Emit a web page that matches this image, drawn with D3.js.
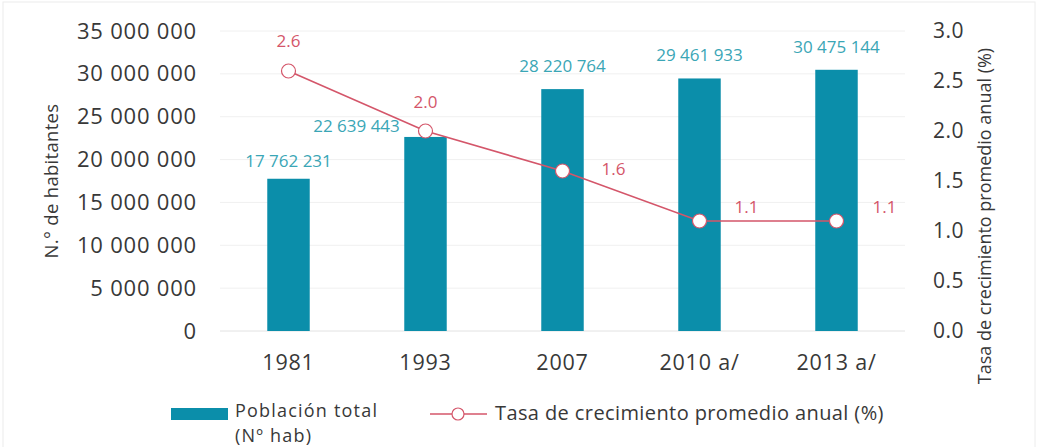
<!DOCTYPE html>
<html><head><meta charset="utf-8">
<script src="https://cdn.jsdelivr.net/npm/d3@7"></script>
<style>body{margin:0;background:#fff}svg{display:block;font-family:"Open Sans",sans-serif}</style>
</head><body><svg id="c" width="1045" height="447"></svg>
<script>
const categories = ["1981","1993","2007","2010 a/","2013 a/"];
const population = [17762231,22639443,28220764,29461933,30475144];
const growth = [2.6,2.0,1.6,1.1,1.1];
const leftTicks = [0,5000000,10000000,15000000,20000000,25000000,30000000,35000000];
const rightTicks = [0,0.5,1.0,1.5,2.0,2.5,3.0];

const svg = d3.select("#c");
const L=220,R=905,T=31,B=331;
const x = d3.scaleBand().domain(categories).range([L,R]).paddingInner(0.69).paddingOuter(0.345);
const yL = d3.scaleLinear().domain([0,35000000]).range([B,T]);
const yR = d3.scaleLinear().domain([0,3]).range([B,T]);
const fmt = d => d3.format(",")(d).replace(/,/g," ");
const barC="#0b8eaa", lblC="#3aa6b6", redC="#d4566a", txt="#383838";

svg.append("rect").attr("x",3).attr("y",2).attr("width",1032).attr("height",450).attr("fill","none").attr("stroke","#ececec");

// grid
svg.append("g").selectAll("line").data(leftTicks).join("line")
  .attr("x1",L).attr("x2",R).attr("y1",d=>yL(d)).attr("y2",d=>yL(d))
  .attr("stroke",d=>d===0?"#e2e2e2":"#f0f0f0");

// left axis
const ga = svg.append("g").attr("transform",`translate(${L-20},0)`)
  .call(d3.axisLeft(yL).tickValues(leftTicks).tickFormat(fmt).tickSize(0));
ga.select(".domain").remove();
ga.selectAll("text").attr("font-size",22).attr("letter-spacing",0.8).attr("fill",txt).attr("font-family","Open Sans");

// right axis
const gr = svg.append("g").attr("transform",`translate(${R+25},0)`)
  .call(d3.axisRight(yR).tickValues(rightTicks).tickFormat(d3.format(".1f")).tickSize(0));
gr.select(".domain").remove();
gr.selectAll("text").attr("font-size",21).attr("letter-spacing",0.5).attr("fill",txt).attr("font-family","Open Sans");

// x axis
const gx = svg.append("g").attr("transform",`translate(0,${B+21})`)
  .call(d3.axisBottom(x).tickSize(0));
gx.select(".domain").remove();
gx.selectAll("text").attr("font-size",21.5).attr("letter-spacing",0.8).attr("fill",txt).attr("font-family","Open Sans");

// bars
svg.append("g").selectAll("rect").data(population).join("rect")
  .attr("x",(d,i)=>x(categories[i])).attr("width",x.bandwidth())
  .attr("y",d=>yL(d)).attr("height",d=>B-yL(d)).attr("fill",barC);

// bar labels
const barDx=[0,-69,0,0,0], barDy=[12,5,17,17,17];
svg.append("g").selectAll("text").data(population).join("text")
  .attr("x",(d,i)=>x(categories[i])+x.bandwidth()/2+barDx[i])
  .attr("y",(d,i)=>yL(d)-barDy[i])
  .attr("text-anchor","middle").attr("font-size",17).attr("fill",lblC).text(fmt);

// line
const cx = (i)=>x(categories[i])+x.bandwidth()/2;
svg.append("path").datum(growth)
  .attr("d",d3.line().x((d,i)=>cx(i)).y(d=>yR(d)))
  .attr("fill","none").attr("stroke",redC).attr("stroke-width",1.6);
svg.append("g").selectAll("circle").data(growth).join("circle")
  .attr("cx",(d,i)=>cx(i)).attr("cy",d=>yR(d)).attr("r",7)
  .attr("fill","#fff").attr("stroke",redC).attr("stroke-width",1.2);

// line labels
const lDx=[0,0,51,47,48], lDy=[-24,-23,4,-8,-8];
svg.append("g").selectAll("text").data(growth).join("text")
  .attr("x",(d,i)=>cx(i)+lDx[i]).attr("y",(d,i)=>yR(d)+lDy[i])
  .attr("text-anchor","middle").attr("font-size",17).attr("fill",redC)
  .text(d3.format(".1f"));

// axis titles
svg.append("text").attr("transform","translate(58,181) rotate(-90)")
  .attr("text-anchor","middle").attr("font-size",18.5).attr("letter-spacing",0.3).attr("fill",txt).text("N.° de habitantes");
svg.append("text").attr("transform","translate(991,216) rotate(-90)")
  .attr("text-anchor","middle").attr("font-size",18).attr("fill",txt).text("Tasa de crecimiento promedio anual (%)");

// legend
svg.append("rect").attr("x",171).attr("y",408).attr("width",57).attr("height",12).attr("fill",barC);
svg.append("text").attr("x",235).attr("y",417).attr("font-size",18).attr("letter-spacing",1.2).attr("fill",txt).text("Población total");
svg.append("text").attr("x",235).attr("y",441.5).attr("font-size",18).attr("letter-spacing",1.2).attr("fill",txt).text("(Nº hab)");
svg.append("line").attr("x1",430).attr("x2",487).attr("y1",414).attr("y2",414).attr("stroke",redC).attr("stroke-width",1.6);
svg.append("circle").attr("cx",458).attr("cy",414).attr("r",6).attr("fill","#fff").attr("stroke",redC).attr("stroke-width",1.2);
svg.append("text").attr("x",495).attr("y",420).attr("font-size",20).attr("letter-spacing",0.4).attr("fill",txt).text("Tasa de crecimiento promedio anual (%)");
</script></body></html>
